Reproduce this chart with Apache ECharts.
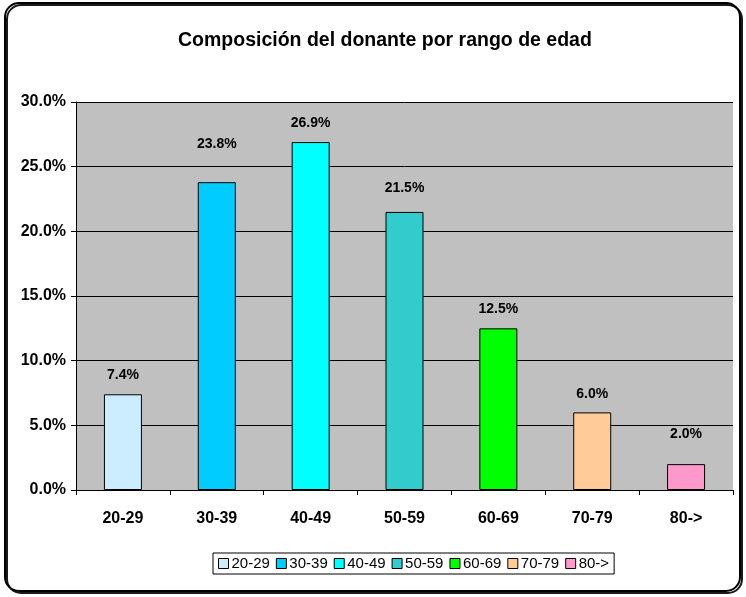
<!DOCTYPE html>
<html>
<head>
<meta charset="utf-8">
<script src="https://cdn.jsdelivr.net/npm/echarts@6/dist/echarts.min.js"></script>
<style>
  html, body { margin: 0; padding: 0; background: #fff; }
  #chart { width: 746px; height: 597px; }
</style>
</head>
<body>
<div id="chart"></div>
<script>
var categories = ['20-29', '30-39', '40-49', '50-59', '60-69', '70-79', '80->'];
var values = [7.4, 23.8, 26.9, 21.5, 12.5, 6.0, 2.0];
var colors = ['#CCECFF', '#00CCFF', '#00FFFF', '#33CCCC', '#00FF00', '#FFCC99', '#FF99CC'];
var yTicks = [0, 5, 10, 15, 20, 25, 30];
// gap between bar top and its value label, as Excel placed them
var labelGap = [12, 31, 12, 17, 12, 11, 23];

var font = 'Arial, "Liberation Sans", sans-serif';

// one series per age range, stacked so each bar sits centred on its own category
var series = categories.map(function (name, i) {
  var d = categories.map(function (c, j) { return j === i ? values[i] : null; });
  return {
    name: name,
    type: 'bar',
    stack: 'all',
    barWidth: 38,
    data: d,
    itemStyle: { color: colors[i], borderColor: '#000', borderWidth: 1 },
    label: {
      show: true,
      position: 'top',
      distance: labelGap[i],
      fontFamily: font,
      fontWeight: 'bold',
      fontSize: 14,
      color: '#000',
      formatter: function (p) { return p.value.toFixed(1) + '%'; }
    }
  };
});

var chart = echarts.init(document.getElementById('chart'));
var option = {
  animation: false,
  backgroundColor: '#fff',
  graphic: [{
    type: 'rect',
    shape: { x: 5, y: 3, width: 735, height: 588, r: 14 },
    style: { fill: 'none', stroke: '#000', lineWidth: 2, shadowColor: 'rgba(0,0,0,0.9)', shadowOffsetX: 2, shadowOffsetY: 2 },
    z: -1
  }],
  title: {
    text: 'Composición del donante por rango de edad',
    left: 173,
    top: 26,
    textStyle: { fontFamily: font, fontWeight: 'bold', fontSize: 19.5, color: '#000' }
  },
  legend: {
    data: categories,
    bottom: 23,
    left: 213,
    icon: 'rect',
    itemWidth: 10,
    itemHeight: 10,
    itemGap: 6,
    borderColor: '#000',
    borderWidth: 1,
    padding: [3, 5, 3, 5],
    itemStyle: { borderColor: '#000', borderWidth: 1 },
    textStyle: { fontFamily: font, fontSize: 15, color: '#000', padding: [0, 0, 0, -2] }
  },
  grid: { left: 76, right: 13, top: 102, bottom: 107, backgroundColor: '#C0C0C0', show: true, borderWidth: 0 },
  xAxis: {
    type: 'category',
    data: categories,
    axisLine: { lineStyle: { color: '#000', width: 1 } },
    axisTick: { show: true, length: 5, lineStyle: { color: '#000' } },
    axisLabel: { fontFamily: font, fontWeight: 'bold', fontSize: 16, color: '#000', margin: 21 }
  },
  yAxis: {
    type: 'value',
    min: yTicks[0],
    max: yTicks[yTicks.length - 1],
    interval: 5,
    axisLine: { show: true, lineStyle: { color: '#000', width: 1 } },
    axisTick: { show: true, length: 5, lineStyle: { color: '#000' } },
    splitLine: { lineStyle: { color: '#000', width: 1 } },
    axisLabel: {
      fontFamily: font, fontWeight: 'bold', fontSize: 16, color: '#000', margin: 10,
      formatter: function (v) { return v.toFixed(1) + '%'; }
    }
  },
  series: series
};
chart.setOption(option);
</script>
</body>
</html>
